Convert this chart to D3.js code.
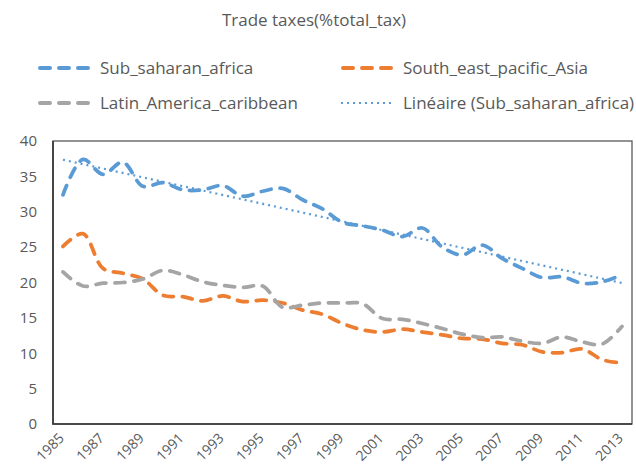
<!DOCTYPE html>
<html>
<head>
<meta charset="utf-8">
<script src="https://cdn.jsdelivr.net/npm/d3@7"></script>
<style>
  html, body { margin: 0; padding: 0; background: #fff; }
  svg { display: block; font-family: "Open Sans", "Liberation Sans", sans-serif; }
</style>
</head>
<body>
<div id="chart"></div>
<script>
const years = d3.range(1985, 2014);

const subSaharan = [32.4, 37.4, 35.3, 37.0, 33.6, 34.1, 33.1, 33.1, 33.7, 32.2, 32.9, 33.3, 31.7, 30.4,
  28.5, 28.0, 27.4, 26.5, 27.7, 25.0, 23.9, 25.3, 23.4, 22.0, 20.7, 20.8, 19.9, 20.1, 21.1];
const southEast = [25.1, 26.9, 22.0, 21.3, 20.5, 18.2, 18.0, 17.4, 18.1, 17.3, 17.5, 17.1, 16.1, 15.5,
  14.2, 13.3, 13.0, 13.4, 13.0, 12.6, 12.1, 12.0, 11.4, 11.2, 10.2, 10.1, 10.6, 9.1, 8.6];
const latinAmerica = [21.5, 19.5, 19.9, 20.0, 20.5, 21.7, 21.1, 20.1, 19.6, 19.3, 19.5, 16.5, 16.8, 17.1,
  17.1, 17.0, 14.9, 14.8, 14.2, 13.5, 12.7, 12.2, 12.3, 11.7, 11.4, 12.3, 11.6, 11.3, 13.8];

const yTicks = [0, 5, 10, 15, 20, 25, 30, 35, 40];
const xLabels = years.filter(y => (y - 1985) % 2 === 0);

const SERIES = [
  { name: "Sub_saharan_africa", values: subSaharan, color: "#5B9BD5" },
  { name: "South_east_pacific_Asia", values: southEast, color: "#ED7D31" },
  { name: "Latin_America_caribbean", values: latinAmerica, color: "#A5A5A5" }
];

const width = 636, height = 475;
const m = { top: 141, right: 4, bottom: 51, left: 53 };
const textColor = "#595959";

const svg = d3.select("#chart").append("svg")
  .attr("width", width)
  .attr("height", height);

svg.append("rect").attr("width", width).attr("height", height).attr("fill", "#fff");

const x = d3.scaleBand().domain(years).range([m.left, width - m.right]);
const cx = d => x(d) + x.bandwidth() / 2;
const y = d3.scaleLinear().domain([0, 40]).range([height - m.bottom, m.top]);

// title
svg.append("text")
  .attr("x", 314).attr("y", 26)
  .attr("text-anchor", "middle")
  .attr("font-size", 17)
  .attr("fill", textColor)
  .text("Trade taxes(%total_tax)");

// legend
const legendItems = [
  { name: SERIES[0].name, color: SERIES[0].color, dotted: false, x: 38, y: 68 },
  { name: SERIES[1].name, color: SERIES[1].color, dotted: false, x: 341, y: 68 },
  { name: SERIES[2].name, color: SERIES[2].color, dotted: false, x: 38, y: 103 },
  { name: "Linéaire (Sub_saharan_africa)", color: SERIES[0].color, dotted: true, x: 341, y: 103 }
];
legendItems.forEach(it => {
  const g = svg.append("g").attr("transform", `translate(${it.x},${it.y})`);
  g.append("line")
    .attr("x1", it.dotted ? 0 : 2).attr("x2", it.dotted ? 53 : 50)
    .attr("stroke", it.color)
    .attr("stroke-width", it.dotted ? 2.2 : 4)
    .attr("stroke-linecap", it.dotted ? "butt" : "round")
    .attr("stroke-dasharray", it.dotted ? "2,4" : "10,9");
  g.append("text")
    .attr("x", 62).attr("y", 6)
    .attr("font-size", 17)
    .attr("fill", textColor)
    .text(it.name);
});

// y axis labels
svg.append("g")
  .attr("transform", `translate(${m.left},0)`)
  .call(d3.axisLeft(y).tickValues(yTicks).tickSize(0).tickPadding(16))
  .call(g => g.select(".domain").remove())
  .selectAll("text")
  .attr("font-size", 15)
  .attr("fill", textColor)
  .attr("font-family", "Open Sans, sans-serif");

// x axis labels
svg.append("g")
  .attr("transform", `translate(0,${height - m.bottom})`)
  .call(d3.axisBottom(x).tickValues(xLabels).tickSize(0).tickPadding(0))
  .call(g => g.select(".domain").remove())
  .selectAll("text")
  .attr("font-size", 14)
  .attr("fill", textColor)
  .attr("font-family", "Open Sans, sans-serif")
  .attr("text-anchor", "end")
  .attr("dy", null)
  .attr("transform", "translate(2,15) rotate(-45)");

// plot frame
svg.append("rect")
  .attr("x", m.left).attr("y", m.top)
  .attr("width", width - m.left - m.right)
  .attr("height", height - m.top - m.bottom)
  .attr("fill", "none")
  .attr("stroke", "#595959")
  .attr("stroke-width", 1.3);
svg.append("path")
  .attr("d", `M${m.left},${m.top}V${height - m.bottom}H${width - m.right}`)
  .attr("fill", "none")
  .attr("stroke", "#333")
  .attr("stroke-width", 1.6);

// series
const line = d3.line()
  .x((d, i) => cx(years[i]))
  .y(d => y(d))
  .curve(d3.curveCatmullRom.alpha(0.5));

SERIES.forEach(s => {
  svg.append("path")
    .datum(s.values)
    .attr("fill", "none")
    .attr("stroke", s.color)
    .attr("stroke-width", 3.75)
    .attr("stroke-linecap", "round")
    .attr("stroke-dasharray", "10,9")
    .attr("d", line);
});

// linear trendline of Sub_saharan_africa (least squares)
const n = years.length;
const xs = d3.range(n);
const mx = d3.mean(xs), my = d3.mean(subSaharan);
const slope = d3.sum(xs, i => (i - mx) * (subSaharan[i] - my)) / d3.sum(xs, i => (i - mx) ** 2);
const icpt = my - slope * mx;
svg.append("line")
  .attr("x1", cx(years[0])).attr("y1", y(icpt))
  .attr("x2", cx(years[n - 1])).attr("y2", y(icpt + slope * (n - 1)))
  .attr("stroke", SERIES[0].color)
  .attr("stroke-width", 2.2)
  .attr("stroke-dasharray", "2,4");
</script>
</body>
</html>
